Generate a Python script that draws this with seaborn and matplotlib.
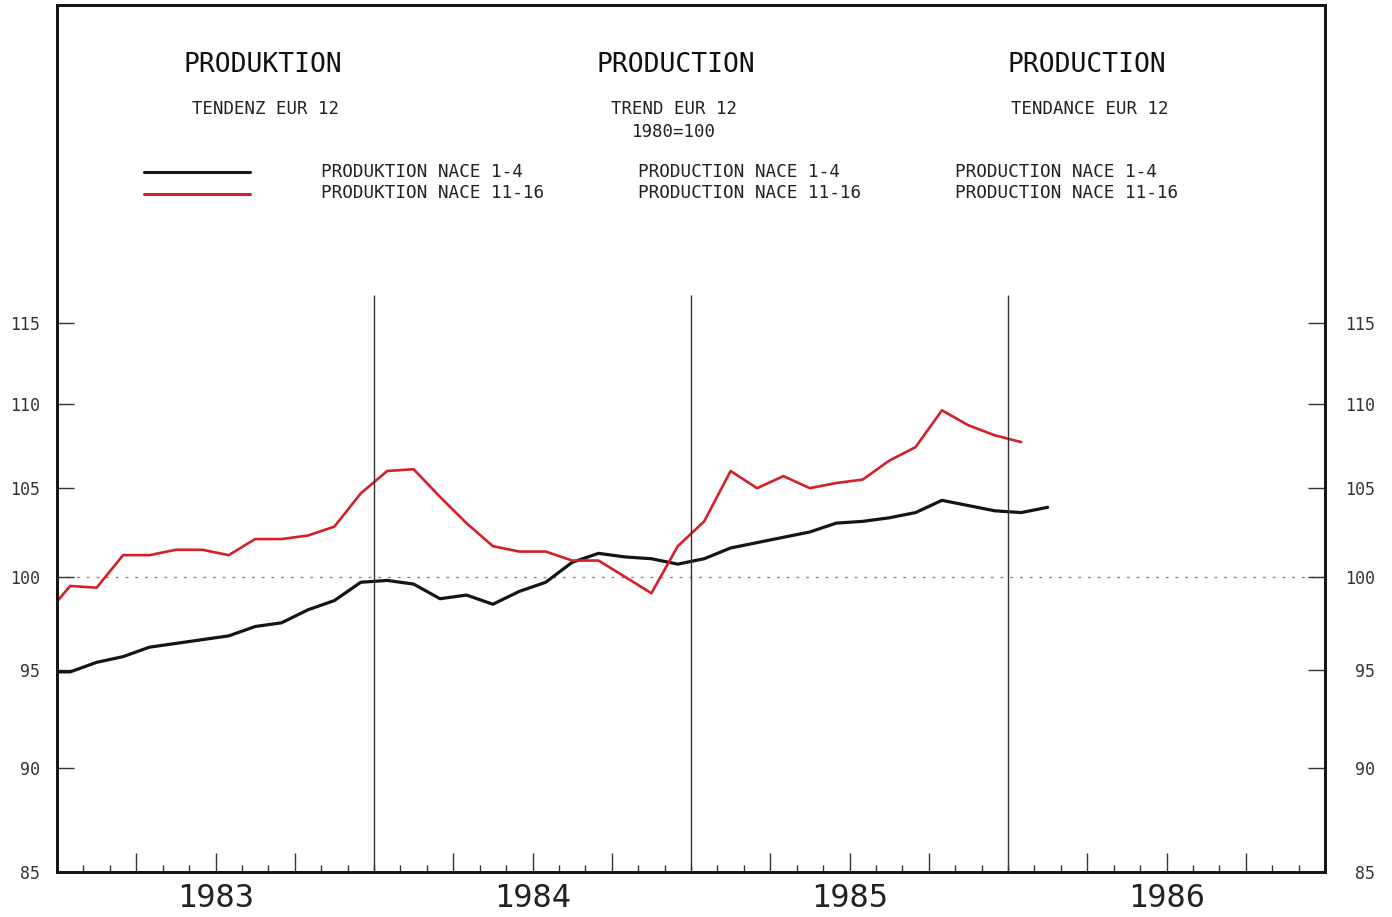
import matplotlib
matplotlib.use("Agg")
import matplotlib.pyplot as plt
from matplotlib.lines import Line2D
import matplotlib.transforms as mtransforms
import pandas as pd
import seaborn as sns

# monthly trend values (1980 = 100), starting December 1982
start_month = "1982-12"
nace_1_4 = [94.9, 94.9, 95.4, 95.7, 96.2, 96.4, 96.6, 96.8, 97.3, 97.5, 98.2, 98.7, 99.7,
            99.8, 99.6, 98.8, 99.0, 98.5, 99.2, 99.7, 100.8, 101.3, 101.1, 101.0, 100.7,
            101.0, 101.6, 101.9, 102.2, 102.5, 103.0, 103.1, 103.3, 103.6, 104.3, 104.0,
            103.7, 103.6, 103.9]
nace_11_16 = [97.8, 99.5, 99.4, 101.2, 101.2, 101.5, 101.5, 101.2, 102.1, 102.1, 102.3, 102.8,
              104.7, 106.0, 106.1, 104.5, 103.0, 101.7, 101.4, 101.4, 100.9, 100.9, 100.0,
              99.1, 101.7, 103.1, 106.0, 105.0, 105.7, 105.0, 105.3, 105.5, 106.6, 107.4,
              109.6, 108.7, 108.1, 107.7]

years = [1983, 1984, 1985, 1986]
year_marks = [1984, 1985, 1986]
y_ticks = [85, 90, 95, 100, 105, 110, 115]

titles = ["PRODUKTION", "PRODUCTION", "PRODUCTION"]
subtitles = ["TENDENZ EUR 12", "TREND EUR 12\n1980=100", "TENDANCE EUR 12"]
legend_labels = [
    ["PRODUKTION NACE 1-4", "PRODUKTION NACE 11-16"],
    ["PRODUCTION NACE 1-4", "PRODUCTION NACE 11-16"],
    ["PRODUCTION NACE 1-4", "PRODUCTION NACE 11-16"],
]

BLACK = "#151515"
RED = "#d42028"
W, H = 1392, 917


def month_frame(values, name):
    periods = pd.period_range(start_month, periods=len(values), freq="M")
    t = [p.year + (p.month - 0.5) / 12 for p in periods]
    return pd.DataFrame({"t": t, "value": values, "series": name})


def px(x, y):
    return x / W, 1 - y / H


df = pd.concat([month_frame(nace_1_4, "NACE 1-4"), month_frame(nace_11_16, "NACE 11-16")])

sns.set_style("white")
plt.rcParams["font.family"] = ["DejaVu Sans Mono", "DejaVu Sans"]

fig = plt.figure(figsize=(W / 100, H / 100), dpi=100)
ax = fig.add_axes([57 / W, 45 / H, 1268 / W, 867 / H])

sns.lineplot(data=df, x="t", y="value", hue="series",
             palette={"NACE 1-4": BLACK, "NACE 11-16": RED},
             linewidth=2.3, legend=False, ax=ax)
for line in ax.lines:
    if line.get_color() == RED:
        line.set_linewidth(1.9)

ax.set_yscale("log")
ax.set_ylim(85, 137)
ax.set_xlim(1983, 1987)
ax.axhline(100, color="#8a8a8a", lw=1, ls=(0, (2, 5)), zorder=0)
ax.vlines(year_marks, 85, 116.8, color="#333333", lw=1)

# x ticks: months small, quarters longer
months = [1983 + m / 12 for m in range(48)]
quarters = [m for i, m in enumerate(months) if i % 3 == 0 and i % 12 != 0]
ax.set_xticks(quarters)
ax.set_xticks(months, minor=True)
ax.set_xticklabels([])
ax.tick_params(axis="x", which="both", bottom=True, top=False)
ax.tick_params(axis="x", which="major", direction="in", length=14, width=1, color="#333")
ax.tick_params(axis="x", which="minor", direction="in", length=5, width=1, color="#333")
ax.set_xlabel("")
ax.set_ylabel("")
trans = mtransforms.blended_transform_factory(ax.transData, ax.transAxes)
for yr in years:
    ax.text(yr + 0.5, -0.030, str(yr), transform=trans, ha="center", va="center",
            fontsize=23, color="#222")

# y ticks on both sides
ax.yaxis.set_minor_locator(matplotlib.ticker.NullLocator())
ax.set_yticks(y_ticks)
ax.set_yticklabels([str(v) for v in y_ticks])
ax.tick_params(axis="y", which="both", left=True, direction="in", length=12, width=1, pad=12,
               labelsize=12, labelcolor="#333", color="#333")

ax2 = ax.twinx()
ax2.set_yscale("log")
ax2.set_ylim(ax.get_ylim())
ax2.yaxis.set_minor_locator(matplotlib.ticker.NullLocator())
ax2.set_yticks(y_ticks)
ax2.set_yticklabels([str(v) for v in y_ticks], ha="right")
ax2.tick_params(axis="y", which="both", right=True, direction="in", length=12, width=1, pad=36,
                labelsize=12, labelcolor="#333", color="#333")

for a in (ax, ax2):
    for s in a.spines.values():
        s.set_linewidth(2)
        s.set_color(BLACK)

# header texts
for cx, title, sub in zip([263, 676, 1087], titles, subtitles):
    fig.text(*px(cx, 65), title, ha="center", va="center", fontsize=19, color="#111")
    if "\n" in sub:
        fig.text(*px(cx - 2, 100), sub, ha="center", va="top", fontsize=12.5,
                 color="#222", linespacing=1.35)
    else:
        fig.text(*px(cx + 3, 109), sub, ha="center", va="center", fontsize=12.5, color="#222")

for lx, labels in zip([321, 638, 955], legend_labels):
    fig.text(*px(lx, 172), labels[0], ha="left", va="center", fontsize=12.7, color="#222")
    fig.text(*px(lx, 193), labels[1], ha="left", va="center", fontsize=12.7, color="#222")

for yy, c in [(172, BLACK), (194, RED)]:
    x0, y0 = px(144, yy)
    x1, _ = px(250, yy)
    fig.add_artist(Line2D([x0, x1], [y0, y0], color=c, lw=2.2, transform=fig.transFigure))

fig.savefig("out.png", dpi=100, facecolor="white")
